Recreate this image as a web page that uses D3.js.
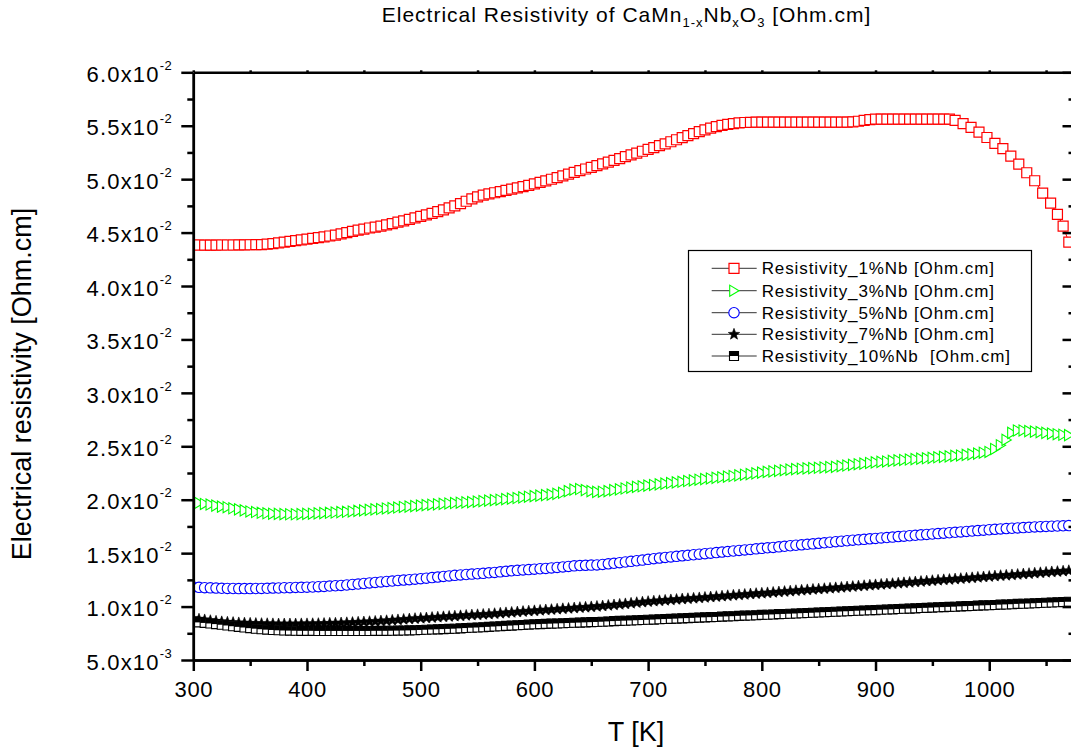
<!DOCTYPE html>
<html><head><meta charset="utf-8">
<script src="https://cdn.jsdelivr.net/npm/d3@7"></script>
<style>
body{margin:0;background:#fff}
svg{display:block}
text{font-family:"Liberation Sans",Arial,Helvetica,sans-serif;fill:#000}
</style>
</head><body>
<svg id="chart" width="1071" height="749"></svg>
<script>
// ---------------- DATA (resistivity values in units of 1e-2 Ohm.cm) ----------------
const UNIT = 1e-2;
const tempsGrid = [
300,305,310,315,320,325,330,335,340,345,350,355,360,365,370,375,380,385,390,395,
400,405,410,415,420,425,430,435,440,445,450,455,460,465,470,475,480,485,490,495,
500,505,510,515,520,525,530,535,540,545,550,555,560,565,570,575,580,585,590,595,
600,605,610,615,620,625,630,635,640,645,650,655,660,665,670,675,680,685,690,695,
700,705,710,715,720,725,730,735,740,745,750,755,760,765,770,775,780,785,790,795,
800,805,810,815,820,825,830,835,840,845,850,855,860,865,870,875,880,885,890,895,
900,905,910,915,920,925,930,935,940,945,950,955,960,965,970,975,980,985,990,995,
1000,1005,1010,1015,1020,1025,1030,1035,1040,1045,1050,1055,1060,1065,1070];
const tempsRed = [
300,305,310,315,320,325,330,335,340,345,350,355,360,365,370,375,380,385,390,395,
400,405,410,415,420,425,430,435,440,445,450,455,460,465,470,475,480,485,490,495,
500,505,510,515,520,525,530,535,540,545,550,555,560,565,570,575,580,585,590,595,
600,605,610,615,620,625,630,635,640,645,650,655,660,665,670,675,680,685,690,695,
700,705,710,715,720,725,730,735,740,745,750,755,760,765,770,775,780,785,790,795,
800,805,810,815,820,825,830,835,840,845,850,855,860,865,870,875,880,885,890,895,
900,905,910,915,920,925,930,935,940,945,950,955,960,965,
970,977,984,991,998,1005,1012,1019,1026,1033,1040,1047,1054,1060,1065,1070];
const res1Nb = [
4.384,4.384,4.383,4.383,4.383,4.384,4.384,4.384,4.385,4.385,
4.386,4.387,4.388,4.392,4.397,4.403,4.41,4.417,4.424,4.431,
4.438,4.446,4.453,4.46,4.468,4.477,4.488,4.5,4.512,4.523,
4.533,4.543,4.552,4.561,4.572,4.584,4.597,4.61,4.623,4.637,
4.651,4.665,4.68,4.696,4.713,4.731,4.75,4.771,4.793,4.815,
4.835,4.85,4.862,4.873,4.884,4.895,4.906,4.918,4.93,4.942,
4.955,4.969,4.984,4.999,5.015,5.031,5.047,5.063,5.079,5.095,
5.111,5.127,5.143,5.159,5.176,5.193,5.21,5.227,5.244,5.261,
5.278,5.295,5.313,5.331,5.35,5.369,5.388,5.407,5.426,5.444,
5.461,5.477,5.491,5.503,5.513,5.52,5.526,5.53,5.532,5.533,
5.534,5.534,5.534,5.534,5.534,5.534,5.534,5.534,5.534,5.534,
5.534,5.534,5.534,5.534,5.534,5.534,5.536,5.542,5.55,5.557,
5.562,5.562,5.562,5.562,5.562,5.562,5.562,5.562,5.562,5.562,
5.562,5.562,5.562,5.562,
5.55,5.52,5.485,5.44,5.39,5.335,5.285,5.215,5.14,5.06,4.985,4.87,4.775,4.67,4.56,4.41];
const res3Nb = [
1.98,1.97,1.96,1.955,1.945,1.935,1.93,1.92,1.91,1.90,
1.89,1.885,1.878,1.873,1.869,1.867,1.865,1.864,1.864,1.865,
1.867,1.869,1.872,1.875,1.878,1.88,1.884,1.887,1.89,1.895,
1.90,1.905,1.909,1.913,1.918,1.922,1.927,1.932,1.936,1.94,
1.945,1.949,1.953,1.957,1.961,1.965,1.969,1.972,1.975,1.978,
1.982,1.987,1.992,1.996,2.00,2.005,2.01,2.016,2.022,2.028,
2.033,2.038,2.043,2.048,2.055,2.065,2.08,2.095,2.10,2.09,
2.08,2.073,2.075,2.08,2.09,2.097,2.105,2.113,2.12,2.126,
2.132,2.138,2.144,2.15,2.156,2.162,2.168,2.175,2.181,2.187,
2.193,2.199,2.205,2.21,2.216,2.222,2.228,2.234,2.24,2.247,
2.253,2.26,2.265,2.27,2.276,2.281,2.286,2.29,2.293,2.296,
2.299,2.302,2.305,2.308,2.314,2.32,2.326,2.332,2.338,2.344,
2.349,2.354,2.358,2.363,2.368,2.372,2.376,2.38,2.384,2.388,
2.392,2.397,2.401,2.405,2.41,2.414,2.419,2.425,2.432,2.44,
2.447,2.475,2.51,2.56,2.625,2.648,2.648,2.642,2.637,2.633,
2.626,2.619,2.613,2.608,2.604];
const res5Nb = [
1.183,1.18,1.177,1.175,1.173,1.171,1.17,1.169,1.168,1.168,
1.168,1.169,1.17,1.171,1.173,1.174,1.176,1.177,1.179,1.18,
1.182,1.183,1.186,1.189,1.192,1.195,1.198,1.202,1.207,1.211,
1.216,1.221,1.226,1.231,1.235,1.239,1.244,1.248,1.252,1.256,
1.261,1.266,1.271,1.276,1.282,1.287,1.292,1.296,1.3,1.304,
1.307,1.311,1.316,1.32,1.325,1.33,1.335,1.339,1.343,1.346,
1.35,1.354,1.357,1.362,1.366,1.371,1.376,1.381,1.384,1.386,
1.388,1.39,1.394,1.4,1.405,1.411,1.417,1.423,1.429,1.435,
1.442,1.448,1.454,1.46,1.465,1.47,1.475,1.48,1.485,1.49,
1.495,1.5,1.505,1.51,1.515,1.52,1.525,1.53,1.535,1.54,
1.545,1.55,1.554,1.559,1.564,1.569,1.574,1.578,1.583,1.587,
1.592,1.597,1.602,1.607,1.612,1.616,1.621,1.625,1.629,1.634,
1.638,1.642,1.646,1.65,1.655,1.659,1.663,1.667,1.671,1.675,
1.679,1.683,1.687,1.691,1.695,1.699,1.703,1.707,1.711,1.715,
1.719,1.723,1.727,1.73,1.733,1.736,1.739,1.742,1.745,1.748,
1.75,1.752,1.754,1.756,1.758];
const res7Nb = [
0.889,0.882,0.875,0.868,0.862,0.857,0.853,0.85,0.847,0.845,
0.843,0.841,0.84,0.839,0.838,0.837,0.837,0.837,0.837,0.838,
0.838,0.839,0.84,0.841,0.843,0.844,0.846,0.848,0.85,0.853,
0.855,0.858,0.861,0.864,0.867,0.871,0.875,0.879,0.883,0.887,
0.89,0.893,0.897,0.9,0.904,0.907,0.91,0.913,0.917,0.92,
0.923,0.926,0.929,0.933,0.937,0.941,0.945,0.949,0.953,0.957,
0.96,0.964,0.968,0.971,0.975,0.979,0.982,0.986,0.99,0.993,
0.997,1.001,1.005,1.01,1.015,1.02,1.025,1.03,1.036,1.041,
1.046,1.05,1.054,1.058,1.062,1.066,1.07,1.073,1.077,1.081,
1.085,1.089,1.093,1.097,1.101,1.105,1.109,1.113,1.117,1.121,
1.124,1.128,1.132,1.136,1.14,1.144,1.148,1.152,1.156,1.16,
1.163,1.167,1.171,1.175,1.179,1.183,1.187,1.191,1.195,1.199,
1.203,1.207,1.21,1.214,1.218,1.222,1.226,1.23,1.234,1.238,
1.242,1.246,1.25,1.253,1.257,1.261,1.265,1.269,1.273,1.277,
1.281,1.285,1.289,1.292,1.296,1.3,1.304,1.308,1.312,1.316,
1.32,1.324,1.327,1.331,1.335];
const res10Nb = [
0.856,0.852,0.847,0.842,0.836,0.83,0.823,0.816,0.81,0.804,
0.798,0.793,0.788,0.784,0.781,0.778,0.776,0.775,0.774,0.773,
0.773,0.773,0.772,0.772,0.772,0.772,0.772,0.772,0.772,0.772,
0.772,0.772,0.773,0.773,0.773,0.774,0.775,0.776,0.777,0.779,
0.781,0.783,0.785,0.787,0.789,0.791,0.793,0.796,0.799,0.802,
0.804,0.807,0.81,0.813,0.816,0.819,0.822,0.825,0.828,0.831,
0.834,0.836,0.838,0.84,0.842,0.844,0.846,0.848,0.85,0.852,
0.854,0.856,0.858,0.861,0.864,0.866,0.868,0.87,0.872,0.874,
0.876,0.878,0.881,0.883,0.885,0.887,0.89,0.892,0.894,0.897,
0.899,0.901,0.903,0.906,0.908,0.91,0.913,0.915,0.917,0.919,
0.922,0.924,0.926,0.929,0.931,0.933,0.935,0.938,0.94,0.942,
0.945,0.947,0.949,0.951,0.954,0.956,0.958,0.961,0.963,0.965,
0.967,0.97,0.972,0.974,0.977,0.979,0.981,0.983,0.986,0.988,
0.99,0.993,0.995,0.997,0.999,1.002,1.004,1.006,1.009,1.011,
1.013,1.015,1.018,1.02,1.022,1.025,1.027,1.029,1.031,1.034,
1.036,1.038,1.04,1.043,1.045];

const seriesNames = ["Resistivity_1%Nb [Ohm.cm]","Resistivity_3%Nb [Ohm.cm]","Resistivity_5%Nb [Ohm.cm]","Resistivity_7%Nb [Ohm.cm]","Resistivity_10%Nb  [Ohm.cm]"];
const xTickValues = [300,400,500,600,700,800,900,1000];
const xTickLabels = ["300","400","500","600","700","800","900","1000"];
const xMinorValues = [350,450,550,650,750,850,950,1050];
const yTickValues = [0.005,0.010,0.015,0.020,0.025,0.030,0.035,0.040,0.045,0.050,0.055,0.060];
const yTickMantissa = ["5.0","1.0","1.5","2.0","2.5","3.0","3.5","4.0","4.5","5.0","5.5","6.0"];
const yTickExponent = ["-3","-2","-2","-2","-2","-2","-2","-2","-2","-2","-2","-2"];
const yMinorValues = [0.0075,0.0125,0.0175,0.0225,0.0275,0.0325,0.0375,0.0425,0.0475,0.0525,0.0575];

// ---------------- LAYOUT ----------------
const svg = d3.select("#chart");
const X0 = 193.3, X1 = 1074.5, Y0 = 660, Y1 = 72.3;
const x = d3.scaleLinear().domain([300, 1075]).range([X0, X1]);
const y = d3.scaleLinear().domain([0.005, 0.06]).range([Y0, Y1]);

svg.append("defs").append("clipPath").attr("id","plotclip")
  .append("rect").attr("x",X0).attr("y",Y1).attr("width",X1-X0).attr("height",Y0-Y1);

// marker shapes
function squarePath(h){return `M${-h},${-h}h${2*h}v${2*h}h${-2*h}Z`;}
const triPath = "M-4.3,-5.6L5,0L-4.3,5.6Z";
function starPath(R, r){
  let p = [];
  for (let i=0;i<10;i++){
    const a = -Math.PI/2 + i*Math.PI/5;
    const rad = i%2===0 ? R : r;
    p.push([rad*Math.cos(a), rad*Math.sin(a)]);
  }
  return "M" + p.map(q=>q[0].toFixed(2)+","+q[1].toFixed(2)).join("L") + "Z";
}
const star = starPath(6, 2.5);

function drawMarker(g, kind){
  if (kind==="square"){
    g.append("path").attr("d",squarePath(5)).attr("fill","#fff").attr("stroke","#ff0000").attr("stroke-width",1.2);
  } else if (kind==="tri"){
    g.append("path").attr("d",triPath).attr("fill","#fff").attr("stroke","#00ff00").attr("stroke-width",1.1);
  } else if (kind==="circle"){
    g.append("circle").attr("r",5.2).attr("fill","#fff").attr("stroke","#0000ff").attr("stroke-width",1.1);
  } else if (kind==="star"){
    g.append("path").attr("d",star).attr("fill","#000").attr("stroke","#000").attr("stroke-width",0.6);
  } else if (kind==="half"){
    g.append("path").attr("d",squarePath(4.5)).attr("fill","#fff").attr("stroke","#000").attr("stroke-width",1.1);
    g.append("rect").attr("x",-4.5).attr("y",-4.5).attr("width",9).attr("height",4.5).attr("fill","#000");
  }
}

const series = [
  {T: tempsRed,  V: res1Nb,  color:"#ff0000", kind:"square"},
  {T: tempsGrid, V: res3Nb,  color:"#00ff00", kind:"tri"},
  {T: tempsGrid, V: res5Nb,  color:"#0000ff", kind:"circle"},
  {T: tempsGrid, V: res7Nb,  color:"#000000", kind:"star"},
  {T: tempsGrid, V: res10Nb, color:"#000000", kind:"half"}
];

const plot = svg.append("g").attr("clip-path","url(#plotclip)");
const line = d3.line().x(d=>x(d[0])).y(d=>y(d[1]*UNIT));
series.forEach(s=>{
  const n = Math.min(s.T.length, s.V.length);
  const pts = d3.range(n).map(i=>[s.T[i], s.V[i]]);
  const g = plot.append("g");
  g.append("path").datum(pts).attr("d",line).attr("fill","none").attr("stroke",s.color).attr("stroke-width",1);
  g.selectAll("g.m").data(pts).join("g").attr("class","m")
    .attr("transform",d=>`translate(${x(d[0])},${y(d[1]*UNIT)})`)
    .each(function(){ drawMarker(d3.select(this), s.kind); });
});

// ---------------- AXES ----------------
function styleAxis(g){
  g.select(".domain").attr("stroke","#000").attr("stroke-width",2.5);
  g.selectAll(".tick line").attr("stroke","#000").attr("stroke-width",2.5);
}
// bottom
const gxb = svg.append("g").attr("transform",`translate(0,${Y0})`)
  .call(d3.axisBottom(x).tickValues(xTickValues).tickFormat((d,i)=>xTickLabels[i]).tickSize(11).tickSizeOuter(0).tickPadding(10));
styleAxis(gxb);
gxb.selectAll(".tick text").attr("font-size",22).attr("font-family","Liberation Sans, Arial, sans-serif").style("letter-spacing","0.6px").attr("fill","#000");
const gxbm = svg.append("g").attr("transform",`translate(0,${Y0})`)
  .call(d3.axisBottom(x).tickValues(xMinorValues).tickFormat("").tickSize(6).tickSizeOuter(0));
styleAxis(gxbm);
// top
const gxt = svg.append("g").attr("transform",`translate(0,${Y1})`)
  .call(d3.axisTop(x).tickValues(xTickValues.concat(xMinorValues)).tickFormat("").tickSize(2).tickSizeOuter(0));
styleAxis(gxt);
// left
const gyl = svg.append("g").attr("transform",`translate(${X0},0)`)
  .call(d3.axisLeft(y).tickValues(yTickValues).tickSize(12).tickSizeOuter(0).tickPadding(9));
styleAxis(gyl);
gyl.selectAll(".tick text").each(function(d,i){
  const t = d3.select(this);
  t.text(null).attr("font-size",22).attr("font-family","Liberation Sans, Arial, sans-serif")
   .attr("dy","0.42em").style("letter-spacing","1.2px").attr("fill","#000");
  t.append("tspan").text(yTickMantissa[i] + "x10");
  t.append("tspan").attr("font-size",13).attr("dy",-12).style("letter-spacing","0.5px").text(yTickExponent[i]);
});
const gylm = svg.append("g").attr("transform",`translate(${X0},0)`)
  .call(d3.axisLeft(y).tickValues(yMinorValues).tickFormat("").tickSize(6).tickSizeOuter(0));
styleAxis(gylm);
// right (inward ticks)
const gyr = svg.append("g").attr("transform",`translate(${X1},0)`)
  .call(d3.axisLeft(y).tickValues(yTickValues).tickFormat("").tickSize(12).tickSizeOuter(0));
styleAxis(gyr);
const gyrm = svg.append("g").attr("transform",`translate(${X1},0)`)
  .call(d3.axisLeft(y).tickValues(yMinorValues).tickFormat("").tickSize(6).tickSizeOuter(0));
styleAxis(gyrm);

// ---------------- TEXTS ----------------
const title = svg.append("text").attr("x",626.5).attr("y",22).attr("text-anchor","middle")
  .attr("font-size",21).style("letter-spacing","1px");
title.append("tspan").text("Electrical Resistivity of CaMn");
title.append("tspan").attr("font-size",13).attr("dy",5).text("1-x");
title.append("tspan").attr("dy",-5).text("Nb");
title.append("tspan").attr("font-size",13).attr("dy",5).text("x");
title.append("tspan").attr("dy",-5).text("O");
title.append("tspan").attr("font-size",13).attr("dy",5).text("3");
title.append("tspan").attr("dy",-5).text(" [Ohm.cm]");

svg.append("text").attr("x",636).attr("y",741).attr("text-anchor","middle")
  .attr("font-size",27).text("T [K]");
svg.append("text").attr("transform","rotate(-90)").attr("x",-384).attr("y",31)
  .attr("text-anchor","middle").attr("font-size",27).text("Electrical resistivity [Ohm.cm]");

// ---------------- LEGEND ----------------
const legendRows = [268.3, 290.7, 312.7, 334.3, 356];
const lg = svg.append("g");
lg.append("rect").attr("x",688.5).attr("y",250.5).attr("width",343).attr("height",121)
  .attr("fill","#fff").attr("stroke","#000").attr("stroke-width",1.2);
series.forEach((s,i)=>{
  const cy = legendRows[i];
  lg.append("line").attr("x1",711.7).attr("x2",756.7).attr("y1",cy).attr("y2",cy)
    .attr("stroke","#333").attr("stroke-width",1);
  const m = lg.append("g").attr("transform",`translate(734,${cy})`);
  drawMarker(m, s.kind);
  lg.append("text").attr("x",761.7).attr("y",cy+6).attr("font-size",17)
    .style("letter-spacing","0.9px").style("white-space","pre").text(seriesNames[i]);
});
</script>
</body></html>
